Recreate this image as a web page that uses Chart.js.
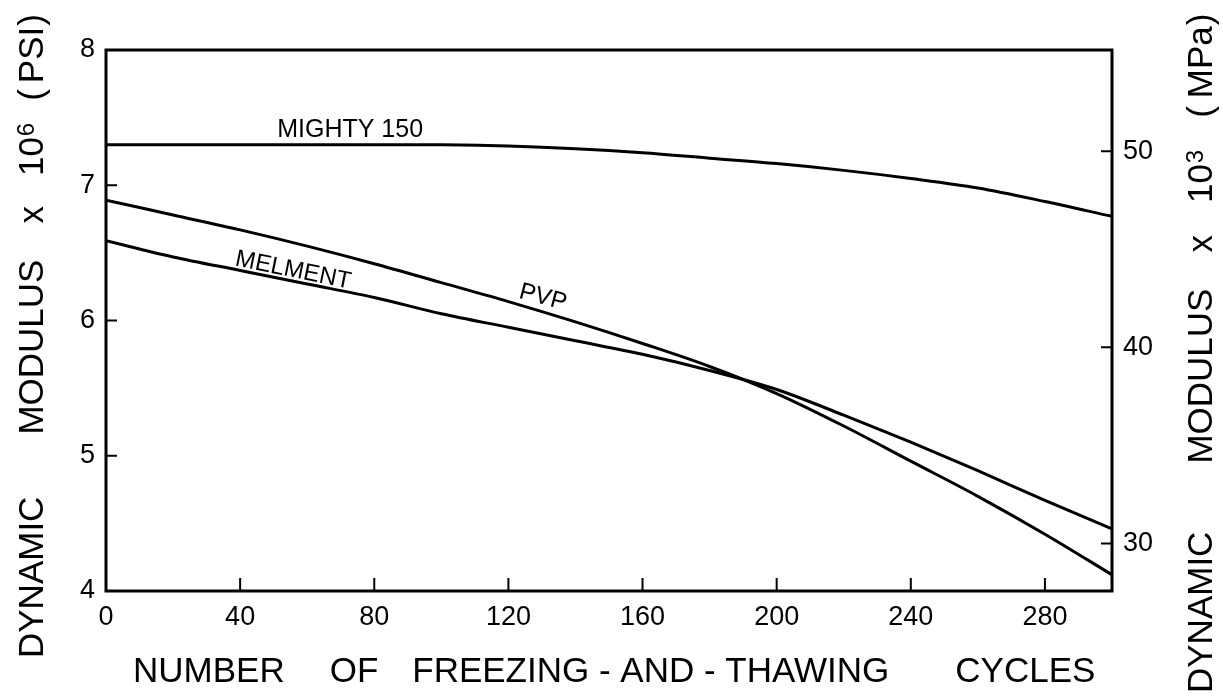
<!DOCTYPE html>
<html>
<head>
<meta charset="utf-8">
<script src="https://cdn.jsdelivr.net/npm/chart.js@4.4.1/dist/chart.umd.min.js"></script>
<style>
  body { margin: 0; background: #fff; }
  #wrap { width: 1223px; height: 696px; }
</style>
</head>
<body>
<div id="wrap"><canvas id="grafico"></canvas></div>
<script>
// ciclos de gelo-degelo e modulo dinamico (10^6 psi)
const ciclos    = [0, 20, 40, 60, 80, 100, 120, 140, 160, 180, 200, 220, 240, 260, 280, 300];
const mighty150 = [7.30, 7.30, 7.30, 7.30, 7.30, 7.30, 7.29, 7.27, 7.24, 7.20, 7.16, 7.11, 7.05, 6.98, 6.88, 6.77];
const pvp       = [6.89, 6.78, 6.67, 6.55, 6.42, 6.28, 6.14, 5.99, 5.83, 5.66, 5.46, 5.22, 4.96, 4.70, 4.42, 4.12];
const melment   = [6.59, 6.47, 6.37, 6.27, 6.17, 6.05, 5.95, 5.85, 5.75, 5.63, 5.49, 5.30, 5.10, 4.89, 4.67, 4.46];

const ticksX   = [0, 40, 80, 120, 160, 200, 240, 280];
const ticksPsi = [4, 5, 6, 7, 8];
const ticksMpa = [30, 40, 50];
const PSI_PARA_MPA = 6.895;

const FONTE = '"Liberation Sans", Arial, sans-serif';

function pontos(valores) {
  return ciclos.map((c, i) => ({ x: c, y: valores[i] }));
}

// escreve pedacos de texto em sequencia ao longo de uma linha (horizontal ou girada)
function escreverPartes(ctx, x, y, angulo, partes) {
  ctx.save();
  ctx.translate(x, y);
  ctx.rotate(angulo);
  ctx.textBaseline = "alphabetic";
  ctx.textAlign = "left";
  let pos = 0;
  partes.forEach(([texto, tam, sobe, espaco]) => {
    ctx.font = tam + "px " + FONTE;
    ctx.fillText(texto, pos, -sobe);
    pos += ctx.measureText(texto).width + espaco;
  });
  ctx.restore();
}

const moldura = {
  id: "moldura",
  afterDraw(chart) {
    const { ctx, chartArea: a, scales } = chart;
    ctx.save();
    ctx.strokeStyle = "#000";
    ctx.fillStyle = "#000";

    // caixa
    ctx.lineWidth = 3;
    ctx.strokeRect(a.left, a.top, a.right - a.left, a.bottom - a.top);

    // marcas para dentro
    ctx.lineWidth = 2;
    ctx.beginPath();
    ticksX.forEach(v => {
      const px = scales.x.getPixelForValue(v);
      ctx.moveTo(px, a.bottom);
      ctx.lineTo(px, a.bottom - 13);
    });
    ticksPsi.forEach(v => {
      const py = scales.y.getPixelForValue(v);
      ctx.moveTo(a.left, py);
      ctx.lineTo(a.left + 11, py);
    });
    ticksMpa.forEach(v => {
      const py = scales.y2.getPixelForValue(v);
      ctx.moveTo(a.right, py);
      ctx.lineTo(a.right - 11, py);
    });
    ctx.stroke();

    // nomes das curvas
    const rotulos = [
      { texto: "MIGHTY 150", x: 72.8, y: 7.41, ang: 0, tam: 25 },
      { texto: "MELMENT", x: 55.8, y: 6.37, ang: 11.5, tam: 24 },
      { texto: "PVP", x: 130.3, y: 6.17, ang: 15, tam: 24 }
    ];
    rotulos.forEach(r => {
      ctx.save();
      ctx.translate(scales.x.getPixelForValue(r.x), scales.y.getPixelForValue(r.y));
      ctx.rotate(r.ang * Math.PI / 180);
      ctx.font = r.tam + "px " + FONTE;
      ctx.textAlign = "center";
      ctx.textBaseline = "middle";
      ctx.fillText(r.texto, 0, 0);
      ctx.restore();
    });

    // titulos dos eixos
    const T = 35;
    escreverPartes(ctx, 133, 682, 0, [
      ["NUMBER", T, 0, 45],
      ["OF", T, 0, 34],
      ["FREEZING - AND - THAWING", T, 0, 66],
      ["CYCLES", T, 0, 0]
    ]);
    escreverPartes(ctx, 43, 658, -Math.PI / 2, [
      ["DYNAMIC", T, 0, 62],
      ["MODULUS", T, 0, 36],
      ["x", T, 0, 30],
      ["10", T, 0, 1],
      ["6", 24, 9, 22],
      ["(", T, 0, 6],
      ["PSI", T, 0, 1],
      [")", T, 0, 0]
    ]);
    escreverPartes(ctx, 1212, 693, -Math.PI / 2, [
      ["DYNAMIC", T, 0, 68],
      ["MODULUS", T, 0, 36],
      ["x", T, 0, 32],
      ["10", T, 0, 1],
      ["3", 24, 9, 32],
      ["(", T, 0, 8],
      ["MPa", T, 0, 1],
      [")", T, 0, 0]
    ]);
    ctx.restore();
  }
};

const estiloLinha = {
  borderColor: "#000",
  borderWidth: 3,
  pointRadius: 0,
  fill: false,
  tension: 0.4,
  cubicInterpolationMode: "monotone"
};

new Chart(document.getElementById("grafico"), {
  type: "line",
  data: {
    datasets: [
      { label: "MIGHTY 150", data: pontos(mighty150), ...estiloLinha },
      { label: "PVP", data: pontos(pvp), ...estiloLinha },
      { label: "MELMENT", data: pontos(melment), ...estiloLinha }
    ]
  },
  options: {
    responsive: true,
    maintainAspectRatio: false,
    animation: false,
    layout: { padding: { top: 50, left: 0, right: 0, bottom: 0 } },
    plugins: {
      legend: { display: false },
      tooltip: { enabled: false }
    },
    scales: {
      x: {
        type: "linear",
        position: "bottom",
        min: 0,
        max: 300,
        grid: { display: false, drawTicks: false },
        border: { display: false },
        afterBuildTicks: s => { s.ticks = ticksX.map(v => ({ value: v })); },
        afterFit: s => { s.height = 105; },
        ticks: { color: "#000", padding: 10, maxRotation: 0, font: { family: FONTE, size: 27 } }
      },
      y: {
        type: "linear",
        position: "left",
        min: 4,
        max: 8,
        grid: { display: false, drawTicks: false },
        border: { display: false },
        afterBuildTicks: s => { s.ticks = ticksPsi.map(v => ({ value: v })); },
        afterFit: s => { s.width = 106; },
        ticks: { color: "#000", padding: 11, font: { family: FONTE, size: 27 } }
      },
      y2: {
        type: "linear",
        position: "right",
        min: 4 * PSI_PARA_MPA,
        max: 8 * PSI_PARA_MPA,
        grid: { display: false, drawTicks: false },
        border: { display: false },
        afterBuildTicks: s => { s.ticks = ticksMpa.map(v => ({ value: v })); },
        afterFit: s => { s.width = 111; },
        ticks: { color: "#000", padding: 11, font: { family: FONTE, size: 27 } }
      }
    }
  },
  plugins: [moldura]
});
</script>
</body>
</html>
